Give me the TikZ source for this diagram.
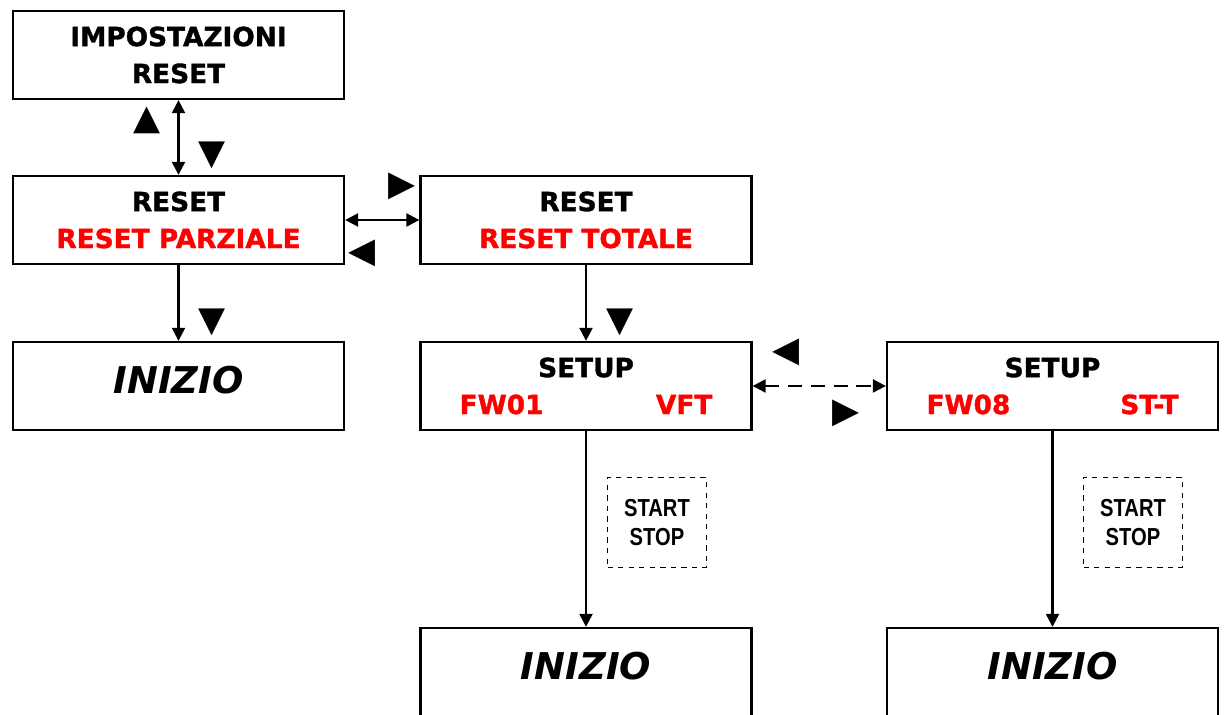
\documentclass[tikz,border=0pt]{standalone}
\usepackage{fontspec}
\setmainfont{DejaVu Sans}[BoldFeatures={FakeBold=1.3}]
\newfontfamily\narrowfont[FakeStretch=0.82]{Liberation Sans}
\usepackage{tikz}
\usetikzlibrary{arrows.meta,positioning}

\begin{document}
\begin{tikzpicture}[
    menu/.style={
        draw, line width=1.3pt, align=center,
        minimum width=6.62cm, minimum height=1.76cm,
        font=\fontsize{15}{21}\selectfont\bfseries
    },
    home/.style={
        menu, text depth=0.24cm,
        font=\fontsize{21}{24}\selectfont\bfseries\itshape
    },
    keybox/.style={
        draw, dashed, line width=0.8pt, align=center,
        minimum width=1.98cm, minimum height=1.8cm,
        font=\fontsize{14}{17}\selectfont\narrowfont\bfseries
    },
    key/.style={inner sep=0pt, font=\fontsize{20}{20}\selectfont},
    edge/.style={-{Triangle[length=2.6mm,width=2.6mm]}, line width=1.3pt},
    twoway/.style={{Triangle[length=2.6mm,width=2.6mm]}-{Triangle[length=2.6mm,width=2.6mm]}, line width=1.3pt},
    swapedge/.style={twoway, dash pattern=on 8pt off 5pt}
]
\useasboundingbox (0,0) rectangle (24.54,14.3);

% 1. Menu entry
\node[menu] (imp) at (3.57,13.2) {IMPOSTAZIONI\\RESET};

% 2. Reset choice
\node[menu] (parz) at (3.57,9.9) {RESET\\\textcolor{red}{RESET PARZIALE}};
\node[menu] (tot) at (11.72,9.9) {RESET\\\textcolor{red}{RESET TOTALE}};

% 3. Setup layer
\node[home] (ini1) at (3.57,6.58) {INIZIO};
\node[menu] (fw01) at (11.72,6.58) {SETUP\\\textcolor{red}{FW01\hspace{2.25cm}VFT}};
\node[menu] (fw08) at (21.05,6.58) {SETUP\\\textcolor{red}{FW08\hspace{2.2cm}ST-T}};

% 4. Start
\node[keybox] (ss1) at (13.14,3.85) {START\\STOP};
\node[keybox] (ss2) at (22.66,3.85) {START\\STOP};
\node[home] (ini2) at (11.72,0.86) {INIZIO};
\node[home] (ini3) at (21.05,0.86) {INIZIO};

% Keys
\node[key] (up1) at (2.94,11.9) {▲};
\node[key] (dn1) at (4.24,11.2) {▼};
\node[key] (rt1) at (8.04,10.58) {▶};
\node[key] (lt1) at (7.24,9.24) {◀};
\node[key] (dn2) at (4.24,7.86) {▼};
\node[key] (dn3) at (12.4,7.86) {▼};
\node[key] (lt2) at (15.72,7.26) {◀};
\node[key] (rt2) at (16.92,6.04) {▶};

% Navigation
\draw[twoway] (imp) -- (parz);
\draw[twoway] (parz) -- (tot);
\draw[edge] (parz) -- (ini1);
\draw[edge] (tot) -- (fw01);
\draw[swapedge] (fw01) -- (fw08);

% Start / stop
\draw[edge] (fw01) -- (ini2);
\draw[edge] (fw08) -- (ini3);

\end{tikzpicture}
\end{document}
